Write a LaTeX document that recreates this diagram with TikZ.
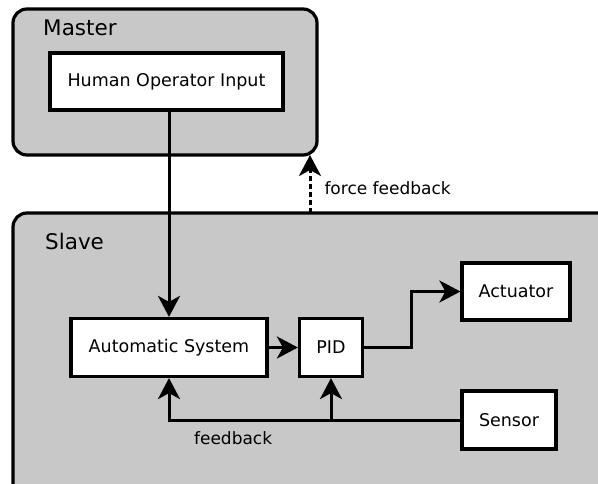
\documentclass[tikz,border=0pt]{standalone}
\usepackage{fontspec}
\setmainfont{DejaVu Sans}
\usetikzlibrary{arrows.meta}

\definecolor{panelgrey}{HTML}{C8C8C8}

\begin{document}
\begin{tikzpicture}[x=1pt, y=-1pt,
	panel/.style={draw, line width=3.2pt, fill=panelgrey, rounded corners=14pt, inner sep=0pt},
	block/.style={draw, line width=3.2pt, fill=white, inner sep=0pt, font=\fontsize{17.5}{20}\selectfont},
	title/.style={anchor=west, inner sep=0pt, font=\fontsize{21.5}{24}\selectfont},
	lbl/.style={inner sep=0pt, font=\fontsize{17}{20}\selectfont},
	link/.style={line width=3pt, -{Stealth[length=21pt, width=22pt, inset=6pt]}}]
	\useasboundingbox (0,0) rectangle (598,484);
	\clip (0,0) rectangle (598,484);
	\fill[white] (0,0) rectangle (598,484);

	% master side
	\node[panel, minimum width=304pt, minimum height=146pt] (master) at (165,82) {};
	\node[title] (mastertitle) at (43,28) {Master};
	\node[block, minimum width=233pt, minimum height=57pt] (HOI) at (166.5,81.5) {Human Operator Input};

	% slave side
	\node[panel, minimum width=660pt, minimum height=330pt] (slave) at (343,378) {};
	\node[title] (slavetitle) at (45,241) {Slave};
	\node[block, minimum width=196pt, minimum height=58pt] (AS) at (169,347.5) {Automatic System};
	\node[block, minimum width=63pt, minimum height=58pt] (PID) at (331,347.5) {PID};
	\node[block, minimum width=108pt, minimum height=57pt] (ACT) at (516,291.5) {Actuator};
	\node[block, minimum width=94pt, minimum height=58pt] (SEN) at (509,420) {Sensor};

	\draw[link] (AS.north |- HOI.south) -- (AS.north);
	\draw[link, dash pattern=on 5pt off 3pt] (310,213) -- node[lbl, anchor=west, xshift=13pt, yshift=-4pt] (ff) {force feedback} (310,155);
	\draw[link] (AS) -- (PID);
	\draw[link] (PID.east) -- (411,347.5) |- (ACT.west);
	\draw[link] (SEN.west) -| node[lbl, pos=0.39, below=10pt] (fb) {feedback} (AS.south);
	\draw[link] (PID.south |- SEN.west) -- (PID.south);
\end{tikzpicture}
\end{document}
